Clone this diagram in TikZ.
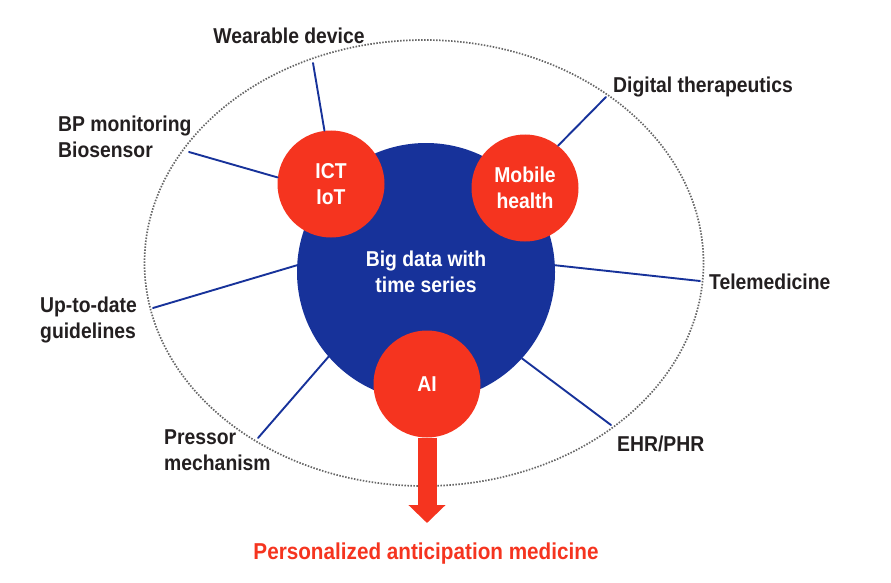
\documentclass[tikz,border=0pt]{standalone}
\usepackage{fontspec}
\setmainfont{Liberation Sans}[FakeStretch=0.9]
\usetikzlibrary{arrows.meta,positioning}
\definecolor{bigblue}{HTML}{17329A}
\definecolor{hotred}{HTML}{F5341F}
\definecolor{inkgray}{HTML}{231F20}

\begin{document}
\begin{tikzpicture}[x=1pt, y=-1pt, line cap=round, line join=round]
  \tikzset{
    hub/.style={circle, fill=bigblue, minimum size=258pt, inner sep=0pt,
      text=white, align=center, font=\fontsize{21.5}{25.5}\selectfont\bfseries},
    tool/.style={circle, fill=hotred, minimum size=107pt, inner sep=0pt,
      text=white, align=center, font=\fontsize{21.5}{25.5}\selectfont\bfseries},
    term/.style={text=inkgray, align=left, inner sep=0pt,
      font=\fontsize{21.5}{25.5}\selectfont\bfseries},
    spoke/.style={bigblue, line width=1.9pt}
  }

  \useasboundingbox (0,0) rectangle (891,583);

  % Dotted outer ring
  \draw[gray!80!black, line width=1.7pt, line cap=butt, dash pattern=on 1.5pt off 1.5pt]
    (424,263) ellipse [x radius=279.5, y radius=223];

  % Big circle and the three red circles
  \node[hub] (big) at (426,272) {Big data with\\time series};
  \node[tool] (ict) at (331,184) {ICT\\IoT};
  \node[tool] (mob) at (525,188) {Mobile\\health};
  \node[tool] (ai) at (427,384) {AI};

  % Ends of the spokes on the ring
  \coordinate (wd-end) at (313,63);
  \coordinate (bp-end) at (189,152);
  \coordinate (dt-end) at (606,97);
  \coordinate (tm-end) at (700,281);
  \coordinate (ug-end) at (153,308);
  \coordinate (pm-end) at (258,438);
  \coordinate (eh-end) at (611,425);

  \draw[spoke] (ict.97) -- (wd-end);
  \draw[spoke] (ict.173) -- (bp-end);
  \draw[spoke] (mob.52) -- (dt-end);
  \draw[spoke] (big.3) -- (tm-end);
  \draw[spoke] (big.177) -- (ug-end);
  \draw[spoke] (big.221) -- (pm-end);
  \draw[spoke] (big.318) -- (eh-end);

  % Labels round the ring
  \node[term] (wd) at (289,36) {Wearable device};
  \node[term, anchor=west] (bp) at (58,137) {BP monitoring\\Biosensor};
  \node[term] (dt) at (703,87) {Digital therapeutics};
  \node[term, anchor=west] (tm) at (709,282) {Telemedicine};
  \node[term, anchor=west] (ug) at (40,320) {Up-to-date\\guidelines};
  \node[term, anchor=west] (pm) at (164,450) {Pressor\\mechanism};
  \node[term, anchor=west] (eh) at (617,444) {EHR/PHR};

  % Outcome
  \node[text=hotred, inner sep=0pt, font=\fontsize{23}{27}\selectfont\bfseries]
    (pam) at (426,554) {Personalized anticipation medicine};
  \coordinate (tip) at (427,523);
  \draw[hotred, line width=19pt, line cap=butt,
    -{Triangle[length=18pt,width=36pt]}] (ai.south) -- (tip);

\end{tikzpicture}
\end{document}
